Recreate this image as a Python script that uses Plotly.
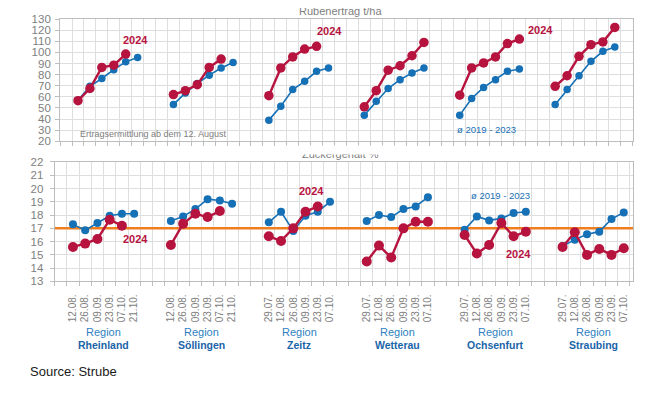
import plotly.graph_objects as go

# ---------------- data ----------------
regions = ["Rheinland", "Söllingen", "Zeitz", "Wetterau", "Ochsenfurt", "Straubing"]
dates_a = ["12.08.", "26.08.", "09.09.", "23.09.", "07.10.", "21.10."]
dates_b = ["29.07.", "12.08.", "26.08.", "09.09.", "23.09.", "07.10."]
region_dates = [dates_a, dates_a, dates_b, dates_b, dates_b, dates_b]
group_start = [1, 9, 17, 25, 33, 41]  # category slot of first date in each region

# Rübenertrag t/ha
yield_2024 = [
    [56.5, 67.5, 86.5, 88.5, 98.5],
    [62, 65.5, 71, 86.5, 94],
    [61, 86, 96, 103, 105.5],
    [51, 65.5, 84, 88, 97, 109],
    [61.5, 86, 90.5, 96, 108, 112],
    [69.5, 79, 96.5, 107, 109.5, 122.5],
]
yield_avg = [
    [57, 69.5, 76.5, 84.5, 91.5, 95.5],
    [53, 63.5, 72, 79.5, 86, 91],
    [39, 51.5, 66.5, 74, 83, 86],
    [43.5, 56, 67.5, 75.5, 81.5, 86],
    [43.5, 58.5, 68.5, 75.5, 83, 85],
    [53, 66.5, 79, 92, 101, 105],
]
# Zuckergehalt %
sugar_2024 = [
    [15.6, 15.85, 16.2, 17.65, 17.2],
    [15.75, 17.35, 18.1, 17.85, 18.3],
    [16.4, 16.05, 17.0, 18.25, 18.65],
    [14.5, 15.7, 14.8, 17.0, 17.5, 17.5],
    [16.5, 15.1, 15.75, 17.4, 16.4, 16.75],
    [15.6, 16.7, 15.0, 15.45, 15.0, 15.5],
]
sugar_avg = [
    [17.3, 16.85, 17.4, 17.95, 18.1, 18.1],
    [17.55, 17.9, 18.45, 19.2, 19.1, 18.85],
    [17.45, 18.25, 16.8, 17.95, 18.25, 19.0],
    [17.55, 18.0, 17.85, 18.45, 18.65, 19.35],
    [16.9, 17.9, 17.6, 17.75, 18.15, 18.25],
    [15.65, 16.15, 16.55, 16.75, 17.7, 18.2],
]
sugar_reference = 17

# ---------------- style ----------------
RED = "#B7133F"
BLUE = "#1670B6"
GRID = "#dedede"
AXIS = "#bdbdbd"
TXT = "#808080"
FONT = "Liberation Sans, Arial, sans-serif"
OFF = 8                      # page body margin of the html page
W, H = 666 - OFF, 395 - OFF  # figure size so that it fits the window


def px(v):   # page x pixel -> paper
    return (v - OFF) / W


def py(v):   # page y pixel -> paper
    return 1 - (v - OFF) / H


fig = go.Figure()


def xs(i, n):
    return [group_start[i] + k for k in range(n)]


# reference line (drawn first, under the series)
fig.add_trace(go.Scatter(x=[-0.5, 46.78], y=[sugar_reference, sugar_reference], mode="lines",
                         line=dict(color="#F07D1E", width=2.5), xaxis="x2", yaxis="y2",
                         showlegend=False, hoverinfo="skip"))

for i in range(len(regions)):
    fig.add_trace(go.Scatter(x=xs(i, len(yield_avg[i])), y=yield_avg[i], mode="lines+markers",
                             line=dict(color=BLUE, width=1.6), marker=dict(color=BLUE, size=7.5),
                             xaxis="x", yaxis="y", showlegend=False, hoverinfo="skip"))
    fig.add_trace(go.Scatter(x=xs(i, len(yield_2024[i])), y=yield_2024[i], mode="lines+markers",
                             line=dict(color=RED, width=2.4), marker=dict(color=RED, size=9.5),
                             xaxis="x", yaxis="y", showlegend=False, hoverinfo="skip"))
    fig.add_trace(go.Scatter(x=xs(i, len(sugar_avg[i])), y=sugar_avg[i], mode="lines+markers",
                             line=dict(color=BLUE, width=1.6), marker=dict(color=BLUE, size=8),
                             xaxis="x2", yaxis="y2", showlegend=False, hoverinfo="skip"))
    fig.add_trace(go.Scatter(x=xs(i, len(sugar_2024[i])), y=sugar_2024[i], mode="lines+markers",
                             line=dict(color=RED, width=2.4), marker=dict(color=RED, size=10),
                             xaxis="x2", yaxis="y2", showlegend=False, hoverinfo="skip"))

tick_pos, tick_txt = [], []
for i in range(len(regions)):
    tick_pos += xs(i, 6)
    tick_txt += region_dates[i]

fig.update_layout(
    width=W, height=H,
    margin=dict(l=0, r=0, t=0, b=0),
    paper_bgcolor="white", plot_bgcolor="white",
    font=dict(family=FONT, color=TXT, size=11),
    xaxis=dict(domain=[px(60.1), px(632.7)], range=[-0.5, 47.5], anchor="y",
               tickmode="linear", tick0=-0.5, dtick=1, showticklabels=False,
               ticks="outside", ticklen=4, tickcolor=AXIS,
               showgrid=True, gridcolor=GRID, gridwidth=1,
               showline=True, linecolor=AXIS, mirror=True, zeroline=False),
    yaxis=dict(domain=[py(139.3), py(13.3)], range=[20, 130], anchor="x",
               tickmode="linear", tick0=20, dtick=10,
               ticks="outside", ticklen=4, tickcolor=AXIS,
               showgrid=True, gridcolor=GRID, gridwidth=1,
               showline=True, linecolor=AXIS, mirror=True, zeroline=False,
               tickfont=dict(size=11.5, color=TXT), ticklabelstandoff=2),
    xaxis2=dict(domain=[px(54.6), px(633.3)], range=[-0.5, 46.78], anchor="y2",
                tickmode="array", tickvals=tick_pos, ticktext=tick_txt, tickangle=-90,
                ticks="", showgrid=False, tickfont=dict(size=10, color=TXT),
                ticklabelstandoff=8,
                minor=dict(tickmode="linear", tick0=-0.5, dtick=1, showgrid=True,
                           gridcolor=GRID, gridwidth=1, ticks="outside", ticklen=4,
                           tickcolor=AXIS),
                showline=True, linecolor=AXIS, mirror=True, zeroline=False),
    yaxis2=dict(domain=[py(284), py(160.7)], range=[13, 22], anchor="x2",
                tickmode="linear", tick0=13, dtick=1,
                ticks="outside", ticklen=4, tickcolor=AXIS,
                showgrid=True, gridcolor=GRID, gridwidth=1,
                showline=True, linecolor=AXIS, mirror=True, zeroline=False,
                tickfont=dict(size=11.5, color=TXT), ticklabelstandoff=4),
)

ann = []


def note(text, x, y, xref, yref, color, size=11, xanchor="center", family=FONT):
    ann.append(dict(text=text, x=x, y=y, xref=xref, yref=yref, showarrow=False,
                    font=dict(color=color, size=size, family=family),
                    xanchor=xanchor, yanchor="middle"))


# panel titles (only partly visible in the original)
note("Rübenertrag t/ha", px(340), py(5), "paper", "paper", TXT, 11)
note("Zuckergehalt %", px(340), py(152.5), "paper", "paper", TXT, 11)
ann.append(dict(text=" ", x=px(340), y=py(148.5), xref="paper", yref="paper", showarrow=False,
                width=120, height=8, bgcolor="white", borderpad=0))

# series labels
note("<b>2024</b>", 5.84, 111.1, "x", "y", RED, 11)
note("<b>2024</b>", 22.12, 118.9, "x", "y", RED, 11)
note("<b>2024</b>", 39.81, 119.8, "x", "y", RED, 11)
note("Ertragsermittlung ab dem 12. August", 7.29, 26.8, "x", "y", TXT, 9)
note("ø 2019 - 2023", 35.24, 31.0, "x", "y", BLUE, 9.5)
note("<b>2024</b>", 6.07, 16.18, "x2", "y2", RED, 11)
note("<b>2024</b>", 20.45, 19.82, "x2", "y2", RED, 11)
note("ø 2019 - 2023", 35.89, 19.46, "x2", "y2", BLUE, 9.5)
note("<b>2024</b>", 37.44, 15.08, "x2", "y2", RED, 11)

# region labels
for i, r in enumerate(regions):
    cx = group_start[i] + 2.5
    note("Region", cx, py(335.7), "x2", "paper", "#2F7FC1", 11)
    note("<b>" + r + "</b>", cx, py(350), "x2", "paper", "#1A64A8", 10.5)

note("Source: Strube", px(28), py(377), "paper", "paper", "#1a1a1a", 13,
     xanchor="left", family="Liberation Sans, Arial, sans-serif")

fig.update_layout(annotations=ann)
fig.write_html("out.html")
